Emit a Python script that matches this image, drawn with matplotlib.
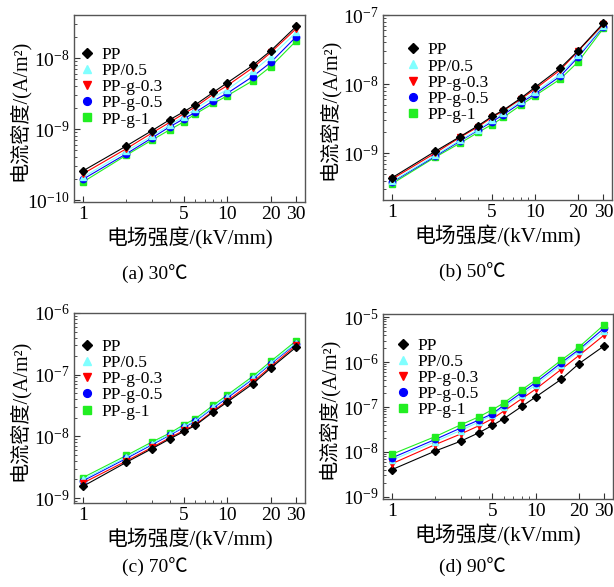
import matplotlib
matplotlib.use('Agg')
import matplotlib.pyplot as plt
from matplotlib.lines import Line2D
from matplotlib.ticker import LogLocator, FixedLocator, FixedFormatter, NullFormatter

plt.rcParams['font.family'] = ['Liberation Serif', 'Noto Sans CJK SC']
plt.rcParams['mathtext.fontset'] = 'stix'

# Field strength (kV/mm)
field = [1, 2, 3, 4, 5, 6, 8, 10, 15, 20, 30]
series_names = ['PP', 'PP/0.5', 'PP-g-0.3', 'PP-g-0.5', 'PP-g-1']

# (a) 30 C current density (A/m^2)
pp_30 = [2.58e-10, 5.8e-10, 9.5e-10, 1.36e-9, 1.76e-9, 2.2e-9, 3.3e-9, 4.5e-9, 7.9e-9, 1.27e-8, 2.8e-8]
pp05_30 = [2.1e-10, 4.9e-10, 8.0e-10, 1.15e-9, 1.5e-9, 1.9e-9, 2.8e-9, 3.6e-9, 6.5e-9, 1.05e-8, 2.3e-8]
g03_30 = [2.35e-10, 5.3e-10, 8.8e-10, 1.25e-9, 1.65e-9, 2.05e-9, 3.1e-9, 4.1e-9, 7.3e-9, 1.2e-8, 2.6e-8]
g05_30 = [1.97e-10, 4.5e-10, 7.5e-10, 1.08e-9, 1.4e-9, 1.72e-9, 2.5e-9, 3.2e-9, 5.5e-9, 8.7e-9, 2.0e-8]
g1_30 = [1.8e-10, 4.3e-10, 7.0e-10, 9.8e-10, 1.27e-9, 1.63e-9, 2.3e-9, 2.95e-9, 4.8e-9, 7.6e-9, 1.75e-8]

# (b) 50 C
pp_50 = [4.4e-10, 1.06e-9, 1.74e-9, 2.5e-9, 3.4e-9, 4.2e-9, 6.3e-9, 9.0e-9, 1.7e-8, 3.05e-8, 7.6e-8]
pp05_50 = [3.9e-10, 9.3e-10, 1.55e-9, 2.2e-9, 3.0e-9, 3.8e-9, 5.7e-9, 7.6e-9, 1.4e-8, 2.6e-8, 7.0e-8]
g03_50 = [4.2e-10, 1.0e-9, 1.7e-9, 2.4e-9, 3.3e-9, 4.1e-9, 6.1e-9, 8.5e-9, 1.6e-8, 3.0e-8, 7.3e-8]
g05_50 = [3.8e-10, 9.0e-10, 1.5e-9, 2.15e-9, 2.85e-9, 3.6e-9, 5.4e-9, 7.2e-9, 1.3e-8, 2.45e-8, 6.8e-8]
g1_50 = [3.6e-10, 8.7e-10, 1.4e-9, 2.0e-9, 2.6e-9, 3.3e-9, 5.0e-9, 6.8e-9, 1.18e-8, 2.1e-8, 6.4e-8]

# (c) 70 C
pp_70 = [1.55e-9, 3.8e-9, 6.3e-9, 9.1e-9, 1.2e-8, 1.5e-8, 2.5e-8, 3.6e-8, 7.1e-8, 1.28e-7, 2.8e-7]
pp05_70 = [2.0e-9, 4.6e-9, 7.6e-9, 1.08e-8, 1.45e-8, 1.8e-8, 3.0e-8, 4.4e-8, 8.8e-8, 1.55e-7, 3.3e-7]
g03_70 = [1.75e-9, 4.0e-9, 6.6e-9, 9.5e-9, 1.25e-8, 1.55e-8, 2.6e-8, 3.8e-8, 7.6e-8, 1.35e-7, 3.0e-7]
g05_70 = [1.9e-9, 4.4e-9, 7.3e-9, 1.05e-8, 1.4e-8, 1.75e-8, 2.9e-8, 4.2e-8, 8.5e-8, 1.5e-7, 3.2e-7]
g1_70 = [2.15e-9, 4.9e-9, 8.1e-9, 1.13e-8, 1.55e-8, 1.93e-8, 3.2e-8, 4.7e-8, 9.4e-8, 1.65e-7, 3.55e-7]

# (d) 90 C
pp_90 = [4.05e-9, 1.05e-8, 1.73e-8, 2.65e-8, 3.9e-8, 5.5e-8, 1.03e-7, 1.67e-7, 4.1e-7, 9.2e-7, 2.3e-6]
pp05_90 = [6.6e-9, 1.7e-8, 3.0e-8, 4.6e-8, 6.6e-8, 1.0e-7, 1.85e-7, 3.1e-7, 8.5e-7, 1.75e-6, 4.9e-6]
g03_90 = [5.5e-9, 1.46e-8, 2.5e-8, 3.8e-8, 5.5e-8, 8.1e-8, 1.53e-7, 2.5e-7, 6.8e-7, 1.4e-6, 4.0e-6]
g05_90 = [7.4e-9, 1.9e-8, 3.4e-8, 5.1e-8, 7.1e-8, 1.09e-7, 2.1e-7, 3.5e-7, 9.5e-7, 1.9e-6, 5.7e-6]
g1_90 = [8.9e-9, 2.2e-8, 4.0e-8, 6.0e-8, 8.7e-8, 1.23e-7, 2.4e-7, 4.0e-7, 1.09e-6, 2.15e-6, 6.8e-6]

captions = ['(a) 30℃', '(b) 50℃', '(c) 70℃', '(d) 90℃']

colors = ['#000000', '#80ffff', '#ff0000', '#0000ff', '#22ee22']
markers = ['D', '^', 'v', 'o', 's']
msizes = [4, 4.8, 4.8, 4.6, 4.2]

panels = [
    ([pp_30, pp05_30, g03_30, g05_30, g1_30], (9.4e-11, 4.04e-8)),
    ([pp_50, pp05_50, g03_50, g05_50, g1_50], (2.1e-10, 1.0e-7)),
    ([pp_70, pp05_70, g03_70, g05_70, g1_70], (8.3e-10, 1.0e-6)),
    ([pp_90, pp05_90, g03_90, g05_90, g1_90], (9.0e-10, 1.17e-5)),
]

# axes rectangles (pixel layout of the 614x587 figure)
W, H = 614, 587
boxes_px = [(74, 15, 305, 202), (383, 15, 612, 200), (74, 313, 305, 503), (383, 314, 613, 499)]
legend_anchor = [(0.035, 0.83), (0.11, 0.853), (0.035, 0.864), (0.065, 0.873)]
caption_pos = [(155, 274), (472, 272), (155, 567), (472, 567)]

fig = plt.figure(figsize=(W / 100, H / 100), dpi=100)

for i, (ys, ylim) in enumerate(panels):
    l, t, r, b = boxes_px[i]
    ax = fig.add_axes([l / W, 1 - b / H, (r - l) / W, (b - t) / H])
    ax.set_xscale('log')
    ax.set_yscale('log')

    # draw so that black ends up on top in low-T panels
    order = [4, 3, 1, 2, 0] if i < 3 else [0, 2, 1, 3, 4]
    for n, k in enumerate(order):
        ax.plot(field, ys[k], color=colors[k], lw=0.8, marker=markers[k],
                ms=msizes[k], mec=colors[k], mfc=colors[k], zorder=3 + n * 0.1)

    ax.set_xlim(0.866, 34.5)
    ax.set_ylim(*ylim)
    ax.xaxis.set_major_locator(FixedLocator([1, 5, 10, 20, 30]))
    ax.xaxis.set_major_formatter(FixedFormatter(['1', '5', '10', '20', '30']))
    ax.xaxis.set_minor_locator(FixedLocator([2, 3, 4, 6, 7, 8, 9]))
    ax.xaxis.set_minor_formatter(NullFormatter())
    ax.yaxis.set_major_locator(LogLocator(base=10, numticks=10))
    ax.yaxis.set_minor_locator(LogLocator(base=10, subs=range(2, 10), numticks=20))
    ax.yaxis.set_minor_formatter(NullFormatter())

    ax.tick_params(which='both', direction='in', colors='#333333', labelcolor='black',
                   labelsize=14, top=False, right=False)
    ax.tick_params(which='major', length=4, width=0.8, pad=3)
    ax.tick_params(which='minor', length=2.5, width=0.6)
    for sp in ax.spines.values():
        sp.set_color('#555555')
        sp.set_linewidth(1.0)

    ax.set_xlabel('电场强度/(kV/mm)', fontsize=15, labelpad=3)
    ax.set_ylabel('电流密度/(A/m²)', fontsize=14.5)
    ax.yaxis.set_label_coords(-0.19, 0.49)

    handles = [Line2D([], [], ls='none', marker=markers[k], color=colors[k],
                      ms=msizes[k] + 1) for k in range(5)]
    ax.legend(handles, series_names, loc='upper left', bbox_to_anchor=legend_anchor[i],
              frameon=False, fontsize=12.5, handlelength=0.6, handletextpad=0.5,
              labelspacing=0.0, borderpad=0, borderaxespad=0)

    cx, cy = caption_pos[i]
    fig.text(cx / W, 1 - cy / H, captions[i], ha='center', va='center', fontsize=14)

fig.savefig('out.png', dpi=100)
